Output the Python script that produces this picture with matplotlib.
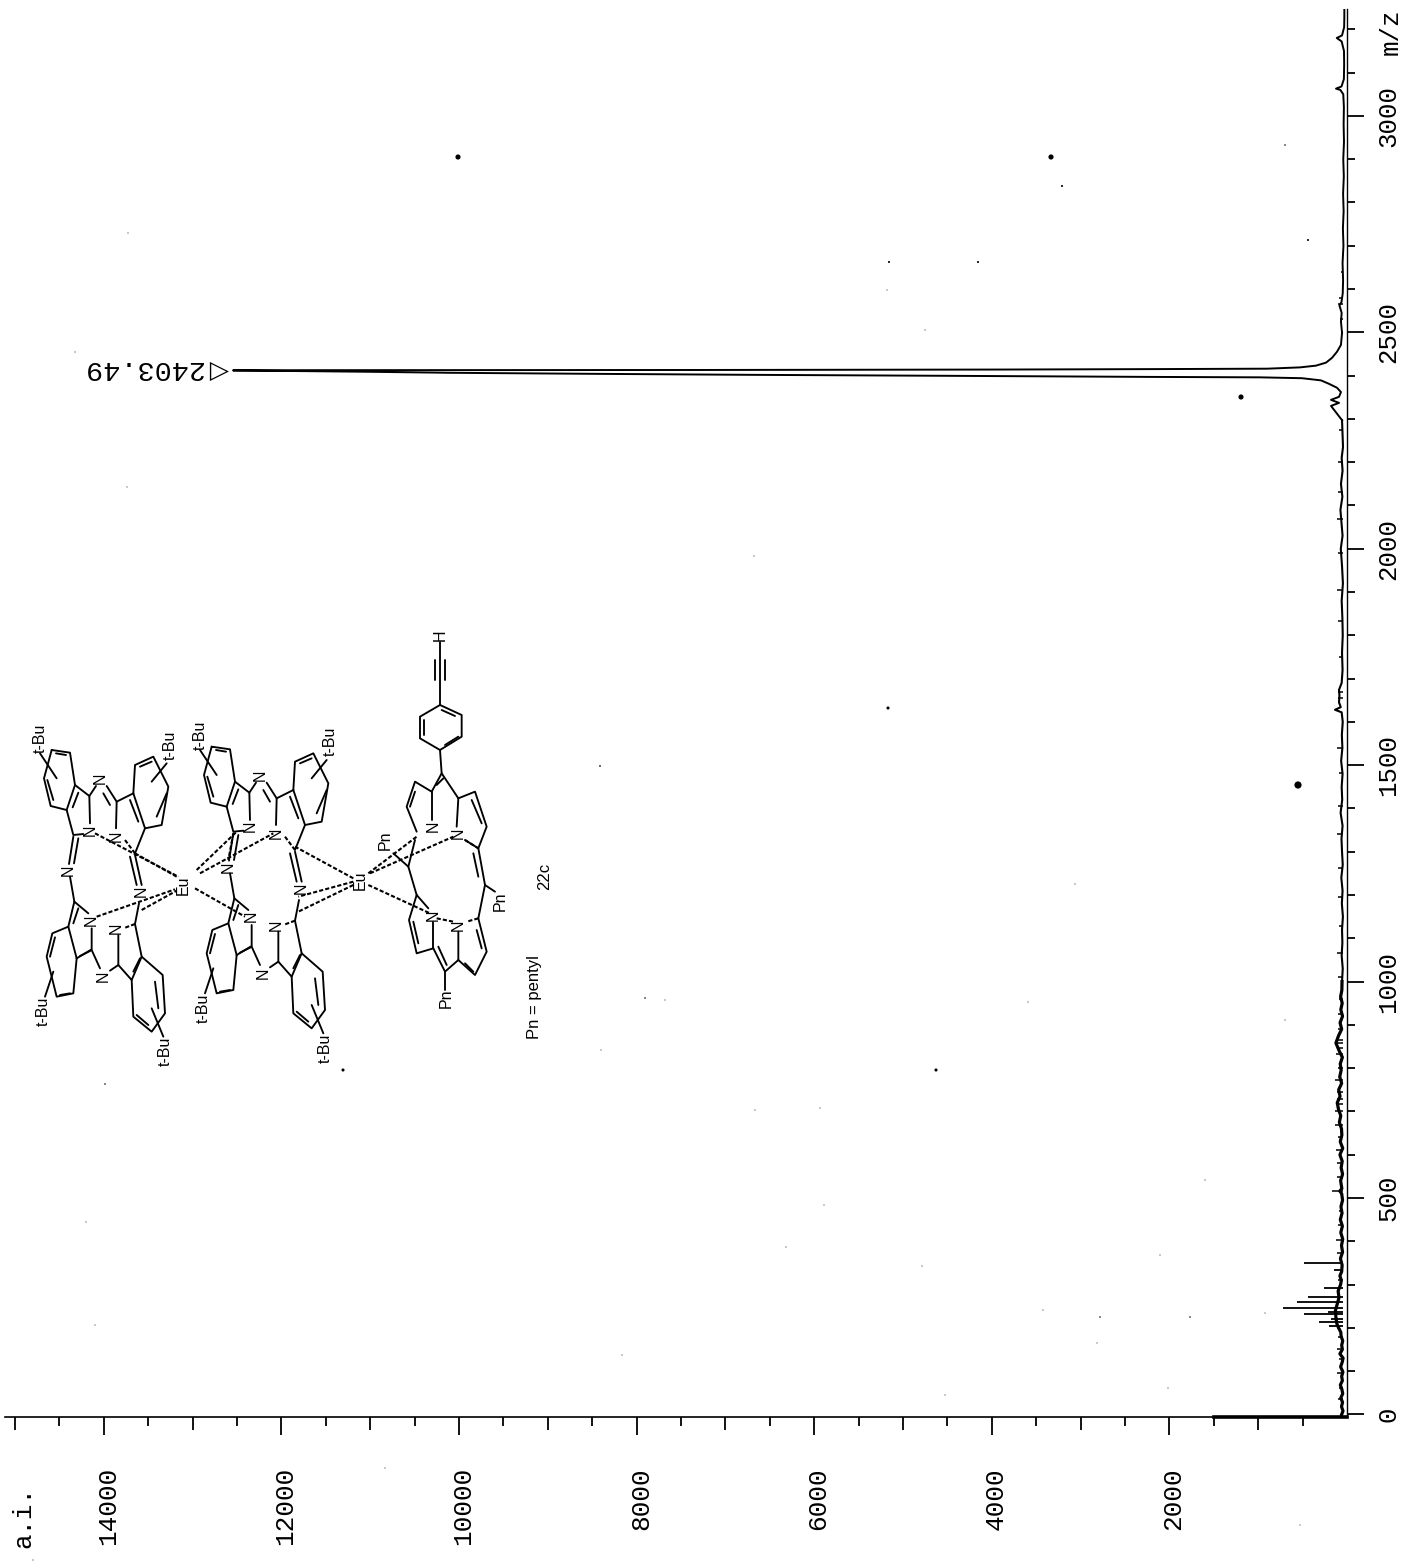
import matplotlib
matplotlib.use('Agg')
import matplotlib.pyplot as plt
from matplotlib.transforms import ScaledTranslation

# ---- spectrum ----
low_mz = [0, 8, 18, 28, 38, 48, 58, 68, 78, 88, 98, 110, 120, 130, 140, 150, 160, 170, 180, 190, 200,
          210, 225, 240, 255, 270, 285, 300, 310, 320, 330, 345, 360, 375, 390, 405, 420, 435, 450, 465,
          480, 495, 510, 516, 522, 540, 555, 570, 585, 600, 615, 630, 645, 660, 675, 690, 705, 720, 735,
          750, 765, 780, 795, 810, 825, 840, 858, 875, 890, 905, 920, 935, 950, 965, 980, 1000]
low_int = [60, 45, 62, 50, 70, 48, 58, 75, 52, 60, 46, 72, 55, 44, 80, 52, 60, 48, 66, 70, 95,
           115, 125, 130, 110, 90, 100, 72, 64, 80, 60, 55, 74, 50, 62, 48, 70, 52, 75, 56,
           68, 50, 60, 80, 58, 72, 50, 66, 54, 80, 48, 76, 58, 62, 86, 70, 96, 110, 78,
           94, 60, 82, 66, 76, 52, 88, 125, 95, 60, 78, 50, 70, 54, 72, 58, 56]

mid_mz = [1000, 1030, 1060, 1090, 1120, 1150, 1180, 1210, 1240, 1270, 1300, 1330, 1360, 1390, 1420, 1450,
          1480, 1510, 1540, 1570, 1600, 1622, 1628, 1634, 1645, 1660, 1674, 1690, 1720, 1760, 1800, 1840,
          1880, 1920, 1960, 2000, 2030, 2060, 2090, 2120, 2150, 2180, 2210, 2235, 2297]
mid_int = [56, 48, 60, 52, 56, 46, 58, 50, 64, 48, 56, 62, 50, 72, 54, 60,
           50, 66, 52, 58, 48, 60, 135, 70, 90, 85, 90, 60, 50, 56, 48, 52,
           60, 46, 56, 70, 50, 62, 74, 52, 68, 50, 60, 45, 56]

peak_mz = [2297, 2330, 2337, 2344, 2351, 2362, 2372, 2381, 2389, 2394, 2396, 2397, 2399.5, 2401.8, 2404, 2406.5,
           2408.8, 2412, 2412.5, 2413, 2414, 2415, 2416, 2419, 2423, 2430, 2441, 2455, 2471, 2499]
peak_int = [56, 180, 90, 180, 90, 68, 113, 203, 293, 507, 980, 2220, 4470, 6720, 8410, 10100,
            11000, 12545, 11790, 7290, 3900, 2220, 900, 530, 350, 236, 169, 113, 68, 56]

high_mz = [2499, 2525, 2545, 2562, 2570, 2590, 2620, 2660, 2700, 2740, 2780, 2820, 2860, 2900, 2940, 2980,
           3020, 3050, 3060, 3063, 3068, 3085, 3120, 3150, 3172, 3180, 3186, 3205, 3230, 3248]
high_int = [56, 68, 60, 85, 62, 48, 44, 50, 40, 46, 38, 44, 36, 42, 34, 38,
            35, 42, 75, 124, 62, 35, 32, 34, 60, 115, 56, 32, 30, 30]

spike_mz = [204, 214, 221, 232, 237, 246, 260, 271, 292, 334, 350]
spike_int = [203, 315, 180, 484, 214, 721, 563, 439, 259, 146, 484]

# short grass on the baseline
grass_mz = [36, 62, 95, 128, 150, 178, 310, 372, 402, 438, 470, 516, 548, 580, 612, 640, 668, 700, 716, 728,
            745, 772, 800, 832, 846, 858, 864, 890, 925, 960, 1010, 1066, 1128, 1195, 1262, 1340, 1405, 1482,
            1540, 1655, 1668, 1750, 1832, 1905, 1990, 2068, 2130, 2200, 2275, 2530, 2565, 2580, 2640]
grass_int = [105, 95, 110, 90, 115, 100, 105, 110, 120, 100, 95, 170, 115, 110, 120, 105, 130, 135, 120, 115,
             110, 130, 105, 120, 115, 125, 110, 100, 105, 95, 100, 110, 95, 105, 100, 110, 100, 95,
             110, 100, 105, 90, 100, 110, 105, 115, 105, 100, 90, 80, 100, 85, 70]

peak_label = '2403.49'
int_major = [2000, 4000, 6000, 8000, 10000, 12000, 14000]
int_mid = [1000, 3000, 5000, 7000, 9000, 11000, 13000, 15000]
int_minor = [500, 1500, 2500, 3500, 4500, 5500, 6500, 7500, 8500, 9500, 10500, 11500, 12500, 13500, 14500]
mz_major = [0, 500, 1000, 1500, 2000, 2500, 3000]
mz_minor = [m for m in range(100, 3201, 100) if m % 500 != 0]

# ---- the drawn structure, pixel positions in the scan ----
# specks of scan dirt (x, y, size)
specks = [(458, 157, 5), (1051, 157, 5), (1298, 785, 7), (1241, 397, 5), (888, 708, 3), (936, 1070, 3),
          (343, 1070, 3), (889, 262, 2), (978, 262, 2), (1062, 186, 2), (1285, 145, 1.5), (1308, 240, 2),
          (887, 290, 1), (600, 766, 1.5), (645, 998, 1.5), (755, 1110, 1), (820, 1108, 1), (1028, 1002, 1),
          (1075, 884, 1), (1100, 1317, 1.5), (1190, 1317, 1.5), (1097, 1343, 1), (945, 1395, 1), (622, 1355, 1),
          (95, 1325, 1), (105, 1084, 1.5), (128, 233, 1), (127, 487, 1), (754, 556, 1), (665, 1000, 1),
          (824, 1205, 1), (786, 1247, 1), (922, 1266, 1), (1168, 1388, 1), (86, 1222, 1), (1300, 1525, 1),
          (460, 1490, 1), (385, 1468, 1), (33, 1560, 1), (601, 1050, 1), (1205, 1180, 1), (1160, 1255, 1),
          (1265, 1313, 1), (1285, 1020, 1), (75, 352, 1), (600, 766, 1), (1043, 1310, 1), (925, 330, 1)]

pc_solid = [
    [(95, 150), (150, 158), (165, 255), (140, 330), (92, 318), (72, 235), (95, 150)],
    [(108, 160), (138, 165)], [(82, 240), (100, 300)], [(175, 278), (158, 322)],
    [(165, 255), (208, 288), (228, 258)], [(208, 288), (210, 370)], [(190, 402), (160, 405), (140, 330)],
    [(160, 410), (147, 492)], [(175, 415), (162, 490)], [(150, 530), (163, 605), (205, 640)],
    [(163, 605), (145, 680), (170, 775)], [(175, 625), (160, 670)],
    [(145, 680), (97, 700), (80, 770), (110, 890), (160, 880), (170, 775)], [(105, 712), (90, 770)],
    [(120, 885), (150, 880)], [(170, 775), (215, 748), (215, 685)], [(180, 768), (212, 752)],
    [(215, 750), (240, 805)], [(270, 812), (295, 795), (295, 705)], [(295, 795), (335, 840), (365, 770), (345, 672)],
    [(340, 815), (360, 775)], [(365, 770), (428, 825), (435, 940), (395, 995), (340, 950), (335, 840)],
    [(405, 845), (415, 925)], [(350, 945), (385, 975)], [(345, 672), (357, 610)],
    [(330, 470), (350, 555)], [(345, 465), (365, 555)], [(345, 460), (375, 385), (340, 280)], [(355, 365), (330, 300)],
    [(340, 280), (290, 305), (260, 258)], [(270, 315), (250, 280)], [(290, 305), (288, 385)],
    [(340, 280), (345, 195), (400, 170), (445, 260), (425, 375), (375, 385)], [(360, 200), (395, 185)],
    [(440, 280), (410, 350)],
    [(110, 235), (60, 160)], [(395, 245), (440, 190)], [(100, 815), (75, 890)], [(395, 925), (430, 1010)],
]
pc_dash = [[(315, 420), (345, 460)], [(345, 672), (310, 685)]]
pc_n = [(240, 235), (210, 390), (290, 410), (145, 512), (365, 575), (215, 660), (290, 685), (250, 830)]
pc_tbu = [(60, 115), (450, 135), (70, 935), (435, 1055)]
pc_shifts = [(0, 0), (480, -10)]

eu_dash3 = [[(225, 400), (475, 530)], [(345, 460), (470, 530)], [(230, 650), (465, 568)], [(365, 630), (470, 572)],
            [(530, 510), (650, 395)], [(540, 520), (760, 400)], [(525, 565), (675, 650)], [(640, 400), (625, 480)]]
eu_dash4 = [[(190, 805), (15, 710)], [(190, 815), (25, 860)], [(190, 825), (25, 905)], [(235, 790), (380, 680)],
            [(240, 790), (490, 680)], [(235, 825), (420, 910)], [(440, 925), (490, 935)]]

por_solid = [
    [(450, 95), (450, 285)], [(435, 150), (435, 210)], [(465, 150), (465, 210)],
    [(450, 285), (515, 315), (515, 380), (450, 420), (390, 385), (390, 320), (450, 285)],
    [(495, 318), (455, 300)], [(403, 330), (403, 375)], [(465, 405), (505, 380)], [(450, 420), (455, 490)],
    [(425, 545), (455, 490), (505, 565)], [(440, 525), (460, 505)],
    [(425, 545), (375, 515), (350, 590), (380, 665)], [(425, 545), (425, 630)], [(375, 545), (360, 590)],
    [(505, 565), (555, 545), (590, 650), (565, 715), (525, 690)], [(505, 565), (500, 650)], [(545, 570), (575, 640)],
    [(565, 715), (585, 825), (565, 925)], [(550, 730), (565, 800)], [(585, 825), (615, 845)],
    [(565, 925), (590, 1025), (555, 1095), (505, 1050), (505, 965)], [(560, 960), (575, 1015)], [(525, 1060), (550, 1085)],
    [(505, 1050), (465, 1085), (430, 1015)], [(445, 1010), (470, 1065)], [(465, 1085), (465, 1140)],
    [(430, 1015), (380, 1030), (357, 930), (380, 855)], [(385, 1000), (370, 935)], [(430, 1015), (430, 935)],
    [(380, 855), (415, 895)], [(380, 855), (355, 770), (310, 730)], [(355, 770), (375, 690)],
]
por_dash = [[(565, 925), (530, 935)], [(525, 690), (565, 715)]]
por_n = [(430, 650), (505, 670), (430, 915), (505, 945)]
por_pn = [(285, 690), (630, 875), (470, 1165)]

crop3 = (20, 700)   # origin of the structure read-off, left part
crop4 = (290, 610)  # and right part


def to_px(pt, crop, shift=(0, 0)):
    return crop[0] + (pt[0] + shift[0]) / 3, crop[1] + (pt[1] + shift[1]) / 3


def draw_path(axx, path, crop, shift=(0, 0), dashed=False):
    pts = [to_px(p, crop, shift) for p in path]
    if dashed:
        axx.plot(*zip(*pts), color='k', lw=1.5, ls=(0, (2.0, 1.0)))
    else:
        axx.plot(*zip(*pts), color='k', lw=1.35, solid_capstyle='round')


def mol_text(axx, s, pt, crop, shift=(0, 0), size=11.5):
    x, y = to_px(pt, crop, shift)
    axx.text(x, y, s, rotation=90, ha='center', va='center', fontsize=size,
             family='Liberation Sans', color='k')


W, H = 1425, 1566
fig = plt.figure(figsize=(W / 100, H / 100), dpi=100, facecolor='white')

# main spectrum axes, turned on its side as in the scan
ax = fig.add_axes([5 / W, 1 - 1417 / H, (1347 - 5) / W, (1417 - 9) / H])
ax.set_xlim(15113, 0)
ax.set_ylim(-6, 3247)
ax.patch.set_alpha(0)
for s in ['top', 'left']:
    ax.spines[s].set_visible(False)
ax.spines['bottom'].set_linewidth(1.2)
ax.spines['right'].set_linewidth(1.0)

ax.plot(low_int, low_mz, color='k', lw=2.3)
ax.plot(mid_int, mid_mz, color='k', lw=1.5)
ax.plot(peak_int, peak_mz, color='k', lw=1.4)
ax.plot(high_int, high_mz, color='k', lw=1.4)
ax.hlines(spike_mz, 50, spike_int, color='k', lw=1.3)
ax.hlines(grass_mz, 50, grass_int, color='k', lw=1.1)
ax.plot([1500, 0], [-6, -6], color='k', lw=2.6, clip_on=False)

ax.xaxis.tick_bottom()
ax.yaxis.tick_right()
ax.set_xticks(int_major)
ax.set_xticklabels([str(v) for v in int_major], rotation=90, ha='center', va='top',
                   family='Liberation Mono', fontsize=18.8)
ax.set_xticks(int_minor, minor=True)
ax.tick_params(axis='x', which='major', length=13, width=1.3, pad=23)
ax.tick_params(axis='x', which='minor', length=6.5, width=1.3)
nudge = ScaledTranslation(3 / 72, 0, fig.dpi_scale_trans)  # printed digits sit right of their ticks
for lab in ax.get_xticklabels():
    lab.set_transform(lab.get_transform() + nudge)
sec = ax.secondary_xaxis('bottom')
sec.set_xticks(int_mid)
sec.set_xticklabels([])
sec.tick_params(axis='x', length=9.5, width=1.3)
sec.spines['bottom'].set_visible(False)

ax.set_yticks(mz_major)
ax.set_yticklabels([str(v) for v in mz_major], rotation=90, ha='left', va='center',
                   family='Liberation Mono', fontsize=18.5)
ax.set_yticks(mz_minor, minor=True)
ax.tick_params(axis='y', which='major', length=12.5, width=1.3, pad=8.5)
ax.tick_params(axis='y', which='minor', length=6, width=1.3)

# peak label, upside down as printed
ax.text(12697, 2412, '\u25c1', rotation=180, ha='center', va='center', fontsize=18,
        family='DejaVu Sans', color='k')
ax.text(12900, 2417, peak_label, rotation=180, ha='right', va='center', fontsize=20.5,
        family='Liberation Mono', color='k')

# overlay in pixel positions: axis titles, structure, dirt
ov = fig.add_axes([0, 0, 1, 1])
ov.set_xlim(0, W)
ov.set_ylim(H, 0)
ov.axis('off')
ov.patch.set_alpha(0)

ov.text(23, 1548, 'a.i.', rotation=90, ha='center', va='bottom', fontsize=18.5, family='Liberation Mono')
ov.text(1391, 32, 'm/z', rotation=90, ha='center', va='center', fontsize=18.5, family='Liberation Mono')

for shift in pc_shifts:
    for path in pc_solid:
        draw_path(ov, path, crop3, shift)
    for path in pc_dash:
        draw_path(ov, path, crop3, shift, dashed=True)
    for pt in pc_n:
        mol_text(ov, 'N', pt, crop3, shift)
    for pt in pc_tbu:
        mol_text(ov, 't-Bu', pt, crop3, shift)

for path in eu_dash3:
    draw_path(ov, path, crop3, dashed=True)
for path in eu_dash4:
    draw_path(ov, path, crop4, dashed=True)
mol_text(ov, 'Eu', (490, 555), crop3)
mol_text(ov, 'Eu', (210, 810), crop4)

for path in por_solid:
    draw_path(ov, path, crop4)
for path in por_dash:
    draw_path(ov, path, crop4, dashed=True)
for pt in por_n:
    mol_text(ov, 'N', pt, crop4)
for pt in por_pn:
    mol_text(ov, 'Pn', pt, crop4)
mol_text(ov, 'H', (450, 75), crop4)
mol_text(ov, '22c', (765, 800), crop4, size=12)
mol_text(ov, 'Pn = pentyl', (735, 1160), crop4, size=12)

ov.scatter([s[0] for s in specks], [s[1] for s in specks], s=[s[2] ** 2 * 0.55 for s in specks],
           color='k', linewidths=0)

fig.savefig('out.png', dpi=100, facecolor='white')
